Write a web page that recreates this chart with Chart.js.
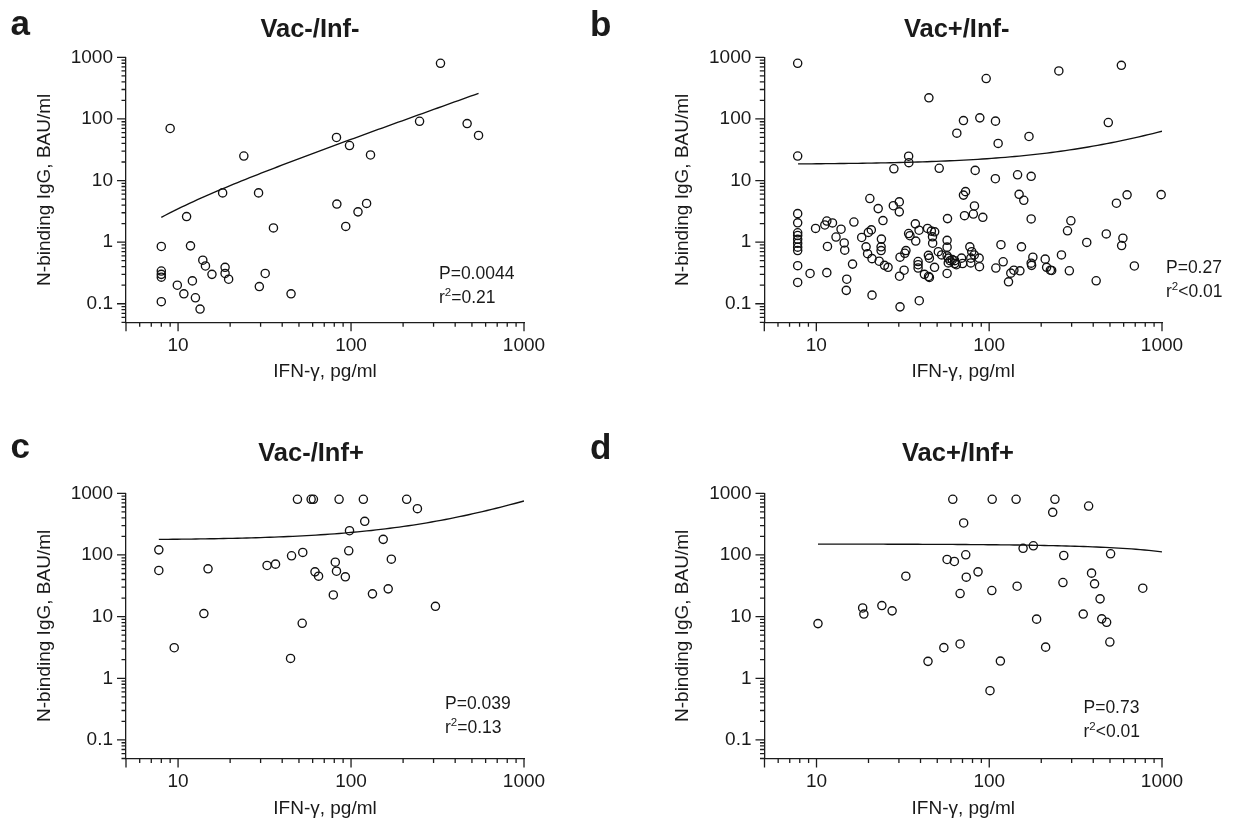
<!DOCTYPE html>
<html>
<head>
<meta charset="utf-8">
<script src="https://cdn.jsdelivr.net/npm/chart.js@4.4.1/dist/chart.umd.min.js"></script>
<style>
  html, body { margin: 0; padding: 0; background: #ffffff; }
  #fig { position: relative; width: 1238px; height: 830px; overflow: hidden;
         font-family: "Liberation Sans", Arial, sans-serif; color: #1a1a1a; }
  #fig canvas { position: absolute; }
  .letter { position: absolute; font-weight: bold; font-size: 35px; line-height: 35px; }
  .title { position: absolute; width: 240px; text-align: center; white-space: nowrap;
           font-weight: bold; font-size: 25.5px; line-height: 25.5px; }
  .stat { position: absolute; white-space: nowrap; font-size: 17.5px; line-height: 24px; }
  .stat .sup { font-size: 11.5px; position: relative; top: -7px; }
</style>
</head>
<body>
<div id="fig">
  <canvas id="pa" width="619" height="415" style="left:0px;top:0px"></canvas>
  <canvas id="pb" width="619" height="415" style="left:619px;top:0px"></canvas>
  <canvas id="pc" width="619" height="415" style="left:0px;top:415px"></canvas>
  <canvas id="pd" width="619" height="415" style="left:619px;top:415px"></canvas>

  <div class="letter" style="left:10.5px;top:5.4px">a</div>
  <div class="letter" style="left:590px;top:6.4px">b</div>
  <div class="letter" style="left:10.5px;top:428.4px">c</div>
  <div class="letter" style="left:590px;top:428.7px">d</div>

  <div class="title" style="left:190px;top:15.7px">Vac-/Inf-</div>
  <div class="title" style="left:836.7px;top:15.7px">Vac+/Inf-</div>
  <div class="title" style="left:191px;top:440.1px">Vac-/Inf+</div>
  <div class="title" style="left:838px;top:440.1px">Vac+/Inf+</div>

  <div class="stat" style="left:439px;top:261.2px">P=0.0044<br>r<span class="sup">2</span>=0.21</div>
  <div class="stat" style="left:1166px;top:254.6px">P=0.27<br>r<span class="sup">2</span>&lt;0.01</div>
  <div class="stat" style="left:445px;top:691.2px">P=0.039<br>r<span class="sup">2</span>=0.13</div>
  <div class="stat" style="left:1083.5px;top:695.2px">P=0.73<br>r<span class="sup">2</span>&lt;0.01</div>
</div>

<script>
// ---- Vac-/Inf- : IFN-gamma (pg/ml) and N-binding IgG (BAU/ml) per subject
const aIfn = [329, 9.0, 249, 469, 546, 82.4, 98, 129.6, 24, 18.1, 29.2, 82.8, 123, 109.7, 93.2, 35.6, 11.2, 8.0, 11.8, 13.9,
              14.4, 18.7, 8.0, 8.0, 8.0, 15.7, 18.7, 19.6, 12.1, 31.9, 9.9, 29.5, 10.8, 12.6, 45, 8.0, 13.4];
const aIgg = [800, 70, 91.5, 84, 54, 50, 37, 26, 25, 6.3, 6.3, 4.15, 4.25, 3.1, 1.8, 1.7, 2.6, 0.85, 0.87, 0.51,
              0.41, 0.39, 0.34, 0.30, 0.27, 0.30, 0.31, 0.25, 0.235, 0.31, 0.2, 0.19, 0.145, 0.125, 0.145, 0.108, 0.082];

// ---- Vac+/Inf-
const bIfn = [7.8, 7.8, 7.8, 7.8, 7.8, 7.8, 7.8, 7.8, 7.8, 7.8, 7.8, 7.8,
              9.2, 9.9, 11.2, 11.5, 12.4, 11.6, 11.5, 13.0, 13.9, 14.5, 14.6, 15.0, 14.9, 16.2, 16.5, 18.3, 19.4, 19.8,
              20.0, 20.8, 20.4, 21.0, 21.0, 22.8, 23.1, 23.8, 23.7, 23.7, 24.3, 24.8, 26.0, 27.9, 28.1, 30.2, 30.2, 30.5,
              30.3, 30.5, 32.2, 33.0, 32.5, 34.2, 34.8, 34.2, 34.3, 37.4, 37.6, 39.3, 38.8, 38.8, 38.8, 39.4, 42.2, 44.6,
              45.1, 44, 44.8, 44.5, 45.1, 46.3, 47.1, 47, 48.4, 48.3, 50.8, 51.4, 53.1, 57.4, 57.1, 57.1, 57.1, 57.1,
              58.1, 59.4, 61.2, 63.2, 58, 63.2, 64.6, 65, 69.2, 70.2, 71, 71, 73, 72, 77.3, 79.3, 82, 78.3, 78.3, 81,
              82.2, 83, 88.3, 87.5, 87.9, 91.9, 96.1, 108.6, 108.8, 109.3, 112.7, 117, 120.5, 129.4, 133.4, 139, 146,
              149, 150.6, 153.8, 158.6, 170, 175, 176, 179, 175, 175, 211, 215, 226, 230, 253, 262, 284, 291, 297, 367,
              416, 476, 489, 545, 584, 594, 582, 628, 692, 989];
const bIgg = [800, 25, 2.9, 2.06, 1.42, 1.28, 1.11, 0.96, 0.83, 0.73, 0.415, 0.222,
              0.31, 1.67, 1.9, 2.2, 2.05, 0.85, 0.32, 1.21, 1.62, 0.97, 0.74, 0.25, 0.165, 0.44, 2.12, 1.19, 0.84, 0.65,
              1.44, 1.58, 5.1, 0.54, 0.138, 3.5, 0.49, 1.12, 0.84, 0.73, 2.24, 0.42, 0.39, 3.9, 15.5, 4.5, 3.1, 0.57,
              0.28, 0.089, 0.35, 0.73, 0.66, 1.38, 1.27, 24.8, 19.5, 1.98, 1.04, 1.56, 0.485, 0.43, 0.38, 0.112, 0.3, 0.277,
              0.267, 1.67, 220, 0.61, 0.55, 1.51, 0.96, 1.22, 1.47, 0.39, 0.70, 15.8, 0.62, 2.41, 1.07, 0.83, 0.31, 0.60,
              0.55, 0.5, 0.52, 0.5, 0.46, 0.45, 0.43, 58.7, 0.55, 0.45, 94, 5.8, 6.6, 2.69, 0.84, 0.70, 0.62, 0.55, 0.46, 2.86,
              3.86, 14.6, 104, 0.55, 0.40, 2.53, 452, 10.7, 92, 0.38, 40, 0.91, 0.48, 0.227, 0.314, 0.35, 12.4,
              5.97, 0.342, 0.84, 4.78, 51.9, 0.456, 0.42, 0.57, 2.38, 11.7, 0.53, 0.39, 0.35, 0.347, 601, 0.62, 1.53, 0.343, 2.22, 0.99,
              0.236, 1.36, 87.3, 4.28, 0.88, 1.16, 741, 5.86, 0.41, 5.9];

// ---- Vac-/Inf+
const cIfn = [49, 58.8, 60.6, 85.3, 117.8, 209.7, 242, 120, 98, 153.5, 7.74, 97, 52.6, 45.3, 171, 81.1, 32.7, 36.6,
              7.74, 14.9, 61.9, 64.9, 82.4, 92.7, 79, 133, 164, 307.6, 14.1, 52.2, 9.5, 44.7];
const cIgg = [800, 800, 800, 800, 800, 800, 563, 351, 247, 179, 121, 117, 110, 97, 85.5, 76.4, 67.5, 71,
              56, 59.6, 53.2, 45.3, 54.5, 44.2, 22.5, 23.4, 28.2, 14.7, 11.2, 7.8, 3.13, 2.1];

// ---- Vac+/Inf+
const dIfn = [61.5, 104, 143, 240, 376, 233, 71.1, 180, 157, 504, 270, 73.1, 57, 62.8, 86.1, 391, 32.9, 73.6, 267, 407,
              145, 774, 103.5, 67.8, 438, 18.5, 18.8, 23.9, 27.4, 10.2, 350, 188, 448, 478, 499, 67.8, 54.6, 212, 44.2, 116, 101];
const dIgg = [800, 800, 800, 800, 622, 491, 330, 141, 128, 104.5, 98, 100.7, 84.5, 78.4, 53.2, 50.7, 45.3, 43.6, 35.7, 34,
              31.1, 28.9, 26.5, 23.7, 19.4, 13.8, 11.0, 15.1, 12.4, 7.7, 11.0, 9.1, 9.2, 8.1, 3.87, 3.6, 3.14, 3.2, 1.88, 1.9, 0.63];

// Linear regression lines (IgG = intercept + slope * IFN), one per group, and the IFN span each line covers
const fitIntercept = [-1.31, 18.25, 174.1, 150.4];
const fitSlope     = [0.4786, 0.0448, 0.576, -0.0379];
const fitFrom      = [8.0, 7.84, 7.74, 10.2];
const fitTo        = [546, 1000, 1000, 1000];

// Axis ranges and labelled ticks
const xRange = [5, 1000];
const yRange = [0.05, 1000];
const xMajorTicks = [10, 100, 1000];
const yMajorTicks = [0.1, 1, 10, 100, 1000];
const minorMultipliers = [2, 3, 4, 5, 6, 7, 8, 9];

const xTitle = 'IFN-\u03B3, pg/ml';
const yTitle = 'N-binding IgG, BAU/ml';

const FONT = '"Liberation Sans", Arial, sans-serif';
const INK = '#1a1a1a';
const AXIS = '#1c1c1c';

// All decade and sub-decade positions inside a log range
function logTickValues(min, max) {
  const out = [];
  const e0 = Math.floor(Math.log10(min)) - 1, e1 = Math.ceil(Math.log10(max));
  for (let e = e0; e <= e1; e++) {
    [1].concat(minorMultipliers).forEach(m => {
      const v = parseFloat((m * Math.pow(10, e)).toPrecision(6));
      if (v >= min * (1 - 1e-9) && v <= max * (1 + 1e-9)) out.push({ v, major: m === 1 });
    });
  }
  return out;
}

// Outside tick marks: long at decades, short in between
const tickMarks = {
  id: 'tickMarks',
  afterDraw(chart) {
    const ctx = chart.ctx;
    const sx = chart.scales.x, sy = chart.scales.y;
    ctx.save();
    ctx.strokeStyle = AXIS;
    ctx.lineWidth = 1.3;
    ctx.beginPath();
    logTickValues(sx.min, sx.max).forEach((t, i) => {
      const p = sx.getPixelForValue(t.v);
      const len = (t.major || i === 0) ? 9 : 4.5;
      ctx.moveTo(p, sx.top);
      ctx.lineTo(p, sx.top + len);
    });
    logTickValues(sy.min, sy.max).forEach(t => {
      const p = sy.getPixelForValue(t.v);
      const len = t.major ? 9 : 4.5;
      ctx.moveTo(sy.right, p);
      ctx.lineTo(sy.right - len, p);
    });
    ctx.stroke();
    ctx.restore();
  }
};

function fitPoints(k) {
  const pts = [];
  const n = 80;
  const l0 = Math.log10(fitFrom[k]), l1 = Math.log10(fitTo[k]);
  for (let i = 0; i < n; i++) {
    const x = Math.pow(10, l0 + (l1 - l0) * i / (n - 1));
    pts.push({ x, y: fitIntercept[k] + fitSlope[k] * x });
  }
  return pts;
}

const panels = [
  { id: 'pa', xs: aIfn, ys: aIgg, fit: 0, plotLeft: 126,   plotRight: 524, plotTop: 57.3, plotBottom: 322.3, yTitlePad: 33.6, xTitlePad: 31.4 },
  { id: 'pb', xs: bIfn, ys: bIgg, fit: 1, plotLeft: 145.3, plotRight: 543, plotTop: 57.3, plotBottom: 322.3, yTitlePad: 52,   xTitlePad: 31.4 },
  { id: 'pc', xs: cIfn, ys: cIgg, fit: 2, plotLeft: 126,   plotRight: 524, plotTop: 78.3, plotBottom: 343.5, yTitlePad: 33.6, xTitlePad: 9.4 },
  { id: 'pd', xs: dIfn, ys: dIgg, fit: 3, plotLeft: 145.5, plotRight: 543, plotTop: 78.3, plotBottom: 343.5, yTitlePad: 52,   xTitlePad: 9.4 }
];

panels.forEach(p => {
  const canvas = document.getElementById(p.id);
  const W = canvas.width, H = canvas.height;
  const points = p.xs.map((x, i) => ({ x, y: p.ys[i] }));
  new Chart(canvas, {
    type: 'scatter',
    data: {
      datasets: [
        {
          data: points,
          showLine: false,
          clip: 8,
          pointStyle: 'circle',
          pointRadius: 4.1,
          pointBorderWidth: 1.35,
          pointBorderColor: '#111111',
          pointBackgroundColor: 'rgba(0,0,0,0)',
          borderColor: '#111111',
          backgroundColor: 'rgba(0,0,0,0)'
        },
        {
          data: fitPoints(p.fit),
          showLine: true,
          pointRadius: 0,
          borderColor: '#111111',
          borderWidth: 1.35,
          fill: false,
          tension: 0
        }
      ]
    },
    options: {
      responsive: false,
      animation: false,
      events: [],
      layout: { padding: { left: 0, right: W - p.plotRight, top: p.plotTop, bottom: 0 } },
      plugins: { legend: { display: false }, tooltip: { enabled: false } },
      scales: {
        x: {
          type: 'logarithmic',
          position: 'bottom',
          min: xRange[0], max: xRange[1],
          afterBuildTicks: s => { s.ticks = xMajorTicks.map(v => ({ value: v })); },
          afterFit: s => { s.height = H - p.plotBottom; },
          grid: { display: false, drawTicks: false },
          border: { display: true, color: AXIS, width: 1.3 },
          ticks: { autoSkip: false, maxRotation: 0, minRotation: 0, padding: 12, color: INK,
                   font: { family: FONT, size: 19 }, callback: v => String(v) },
          title: { display: true, text: xTitle, color: INK, font: { family: FONT, size: 19 },
                   padding: { top: 0, bottom: p.xTitlePad } }
        },
        y: {
          type: 'logarithmic',
          position: 'left',
          min: yRange[0], max: yRange[1],
          afterBuildTicks: s => { s.ticks = yMajorTicks.map(v => ({ value: v })); },
          afterFit: s => { s.width = p.plotLeft; },
          grid: { display: false, drawTicks: false },
          border: { display: true, color: AXIS, width: 1.3 },
          ticks: { autoSkip: false, padding: 13, color: INK,
                   font: { family: FONT, size: 19 }, callback: v => String(v) },
          title: { display: true, text: yTitle, color: INK, font: { family: FONT, size: 19 },
                   padding: { top: p.yTitlePad, bottom: 0 } }
        }
      }
    },
    plugins: [tickMarks]
  });
});
</script>
</body>
</html>
